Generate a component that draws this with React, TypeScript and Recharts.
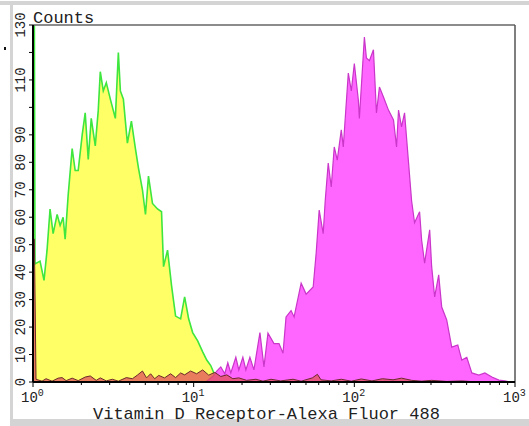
import { ComposedChart, Area, XAxis, YAxis, ReferenceLine } from 'recharts';

// channel values (x) and counts
const yellowCh = [1.0, 1.02, 1.029, 1.106, 1.171, 1.223, 1.277, 1.334, 1.413, 1.475, 1.54, 1.585, 1.655, 1.753, 1.83, 1.911, 2.024, 2.113, 2.207, 2.304, 2.441, 2.548, 2.623, 2.738, 2.859, 3.029, 3.255, 3.398, 3.498, 3.652, 3.868, 4.097, 4.34, 4.531, 4.8, 5.012, 5.233, 5.543, 5.957, 6.31, 6.494, 6.879, 7.286, 7.718, 8.294, 8.785, 9.306, 9.857, 10.59, 11.38, 12.06, 12.77, 13.53, 14.33, 15.18, 16.08, 17.53];
const yellowCounts = [130, 130, 43, 44, 37, 48, 63, 54, 61, 57, 60, 52, 68, 85, 77, 77, 90, 98, 81, 96, 86, 99, 113, 106, 109, 103, 96, 120, 106, 103, 87, 95, 85, 78, 70, 61, 75, 65, 63, 62, 42, 48, 35, 24, 23, 31, 23, 18, 15, 11, 8, 6, 2.5, 1.1, 0.7, 0.5, 0];

const magentaCh = [11.89, 13.14, 13.92, 14.75, 15.62, 16.31, 17.03, 18.3, 19.1, 20.24, 21.13, 22.39, 23.71, 25.85, 27.38, 29.0, 31.62, 33.98, 35.99, 37.58, 40.39, 42.17, 46.66, 50.12, 55.43, 57.88, 60.43, 64.01, 65.88, 68.79, 71.83, 74.99, 78.3, 82.94, 85.36, 91.73, 95.78, 100, 105.9, 107.5, 115.5, 118.9, 124.1, 131.5, 137.3, 143.3, 151.8, 163.1, 175.3, 183.1, 188.4, 196.7, 205.4, 217.6, 227.2, 237.1, 254.8, 262.3, 273.8, 294.4, 302.9, 316.2, 335.0, 349.8, 375.8, 403.9, 440.4, 466.6, 501.2, 538.6, 595.7, 649.4, 718.3, 794.3, 866.0, 930.6];
const magentaCounts = [0, 2, 4, 5.5, 3, 7, 3.3, 9, 4.4, 9, 4.4, 9, 4.4, 18, 5.5, 17.8, 14, 14, 10.5, 23.7, 26, 23.7, 36, 32, 34.6, 47, 62.6, 54, 66, 79.7, 71, 85.6, 80.8, 91.8, 85.6, 112.5, 106, 116, 102.7, 96, 125.6, 118, 117, 121, 98, 107.4, 103.8, 99, 95.4, 85.6, 99, 92.9, 98, 79.7, 66, 58, 62, 51.7, 43.3, 55.4, 42, 31, 39, 27.3, 22.6, 12.7, 13.5, 8, 9, 3.3, 2.5, 3.3, 1.8, 0.7, 0.4, 0];

const redCh = [1.0, 1.02, 1.044, 1.138, 1.206, 1.314, 1.433, 1.518, 1.608, 1.753, 1.911, 2.113, 2.272, 2.474, 2.623, 2.859, 3.116, 3.398, 3.81, 4.158, 4.461, 4.8, 5.09, 5.395, 5.718, 6.061, 6.59, 7.183, 7.718, 8.294, 8.785, 9.571, 10.43, 11.38, 12.41, 13.53, 14.75, 16.08, 17.53, 19.1, 21.36, 24.42, 27.0, 30.31, 34.81, 41.55, 46.66, 54.75, 58.9, 62.0, 71.83, 82.94, 95.78, 110.5, 128.7, 149.6, 174.2, 196.7, 227.2, 262.3, 302.9, 375.8, 466.6, 579.4];
const redCounts = [52, 52, 1, 0.3, 1.2, 0.3, 1.4, 1.6, 0.5, 1.4, 0.5, 1.8, 2.2, 0.6, 1.5, 0.4, 1.0, 0.3, 1.6, 1.2, 2.5, 4, 1.5, 3, 1.2, 2.4, 1.5, 3, 1.6, 3.3, 2.6, 4, 3, 4.4, 2.5, 3.5, 2, 2.6, 1.2, 1.5, 0.6, 1, 0.3, 1, 0.4, 1, 0.3, 1.5, 2.8, 0.8, 0.4, 1, 0.3, 1.1, 0.4, 1.2, 0.8, 1.4, 0.6, 0.3, 0.6, 0.2, 0.4, 0];

const xTicks = [1, 2, 3, 4, 5, 6, 7, 8, 9, 10, 20, 30, 40, 50, 60, 70, 80, 90, 100, 200, 300, 400, 500, 600, 700, 800, 900, 1000];
const xMajor = [1, 10, 100, 1000];
const yTicks = [0, 10, 20, 30, 40, 50, 60, 70, 80, 90, 100, 110, 120, 130];
const yLabelled = [0, 10, 20, 30, 40, 50, 60, 70, 80, 90, 110, 130];

const FONT = '"Liberation Mono", monospace';

const rows = new Map<number, any>();
const addSeries = (xs: number[], ys: number[], key: string) => {
  xs.forEach((x, i) => {
    const row = rows.get(x) ?? { x };
    row[key] = ys[i];
    rows.set(x, row);
  });
};
addSeries(yellowCh, yellowCounts, 'neg');
addSeries(magentaCh, magentaCounts, 'pos');
addSeries(redCh, redCounts, 'blank');
const data = Array.from(rows.values()).sort((a, b) => a.x - b.x);

function XTick({ x, y, payload }: any) {
  const v = payload.value;
  const major = xMajor.includes(v);
  return (
    <g>
      <line x1={x} x2={x} y1={y} y2={y + (major ? 5 : 3)} stroke="#000" strokeWidth={1} />
      {major && (
        <text x={x - 12} y={y + 20} fontFamily={FONT} fontSize={14} fill="#222">
          10<tspan dy={-6} fontSize={10}>{Math.round(Math.log10(v))}</tspan>
        </text>
      )}
    </g>
  );
}

function YTick({ x, y, payload }: any) {
  const v = payload.value;
  return (
    <g>
      <line x1={x - 4} x2={x} y1={y} y2={y} stroke="#000" strokeWidth={1} />
      {yLabelled.includes(v) && (
        <text transform={`translate(${x - 8},${y}) rotate(-90)`} textAnchor="middle"
          fontFamily={FONT} fontSize={14} fill="#222">
          {v}
        </text>
      )}
    </g>
  );
}

export default function App() {
  return (
    <div style={{ position: 'absolute', left: 0, top: 0, width: 529, height: 426, background: '#fff', overflow: 'hidden' }}>
      {/* grey frame of the scanned figure */}
      <div style={{ position: 'absolute', left: 0, top: 1, width: 529, height: 4, background: '#d4d4d4' }} />
      <div style={{ position: 'absolute', left: 10, top: 1, width: 3, height: 425, background: '#d4d4d4' }} />
      <div style={{ position: 'absolute', left: 10, top: 419, width: 519, height: 7, background: '#d4d4d4' }} />
      <div style={{ position: 'absolute', left: 4, top: 47, width: 2, height: 3, background: '#111' }} />
      <div style={{ position: 'absolute', left: 0, top: 0 }}>
        <ComposedChart width={529} height={426} data={data}
          margin={{ top: 25, right: 14, bottom: 0, left: 0 }}>
          <XAxis dataKey="x" type="number" scale="log" domain={[1, 1000]} ticks={xTicks}
            allowDataOverflow interval={0} tick={<XTick />} tickLine={false} tickSize={0} tickMargin={0}
            axisLine={{ stroke: '#000', strokeWidth: 2 }} height={44} />
          <YAxis type="number" domain={[0, 130]} ticks={yTicks} allowDataOverflow interval={0}
            tick={<YTick />} tickLine={false} tickSize={0} tickMargin={0}
            axisLine={{ stroke: '#000', strokeWidth: 2 }} width={33} />
          <ReferenceLine y={130} stroke="#666" strokeWidth={1.5} />
          <ReferenceLine x={1000} stroke="#555" strokeWidth={1.5} />
          <Area type="linear" dataKey="neg" fill="#ffff66" fillOpacity={1} stroke="#3ee63e"
            strokeWidth={1.6} connectNulls dot={false} isAnimationActive={false} />
          <Area type="linear" dataKey="pos" fill="#ff66ff" fillOpacity={1} stroke="#c936c9"
            strokeWidth={1.2} connectNulls dot={false} isAnimationActive={false} />
          <Area type="linear" dataKey="blank" fill="#e0505a" fillOpacity={0.75} stroke="#6a2a2a"
            strokeWidth={1} connectNulls dot={false} isAnimationActive={false} />
        </ComposedChart>
      </div>
      <svg width={529} height={426} style={{ position: 'absolute', left: 0, top: 0, pointerEvents: 'none' }}>
        <text x={33} y={23} fontFamily={FONT} fontSize={17} fill="#222">Counts</text>
        <text x={93} y={419} fontFamily={FONT} fontSize={17} fill="#222">Vitamin D Receptor-Alexa Fluor 488</text>
      </svg>
    </div>
  );
}
